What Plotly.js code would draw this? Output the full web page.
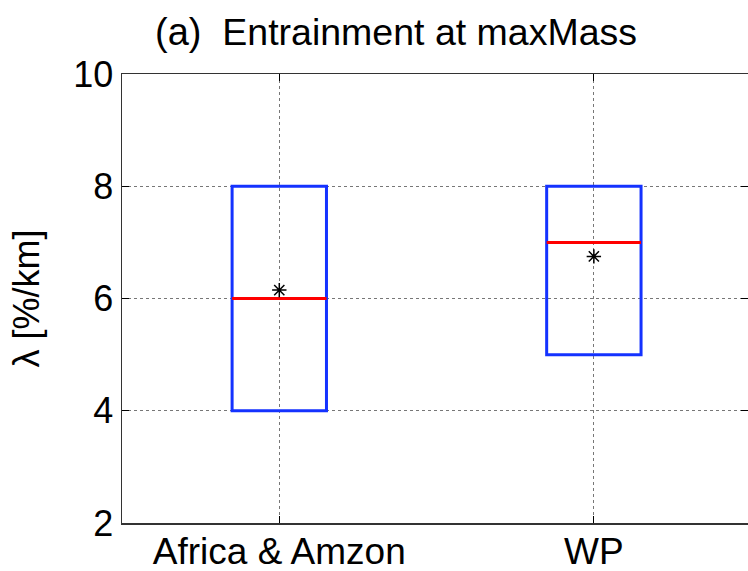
<!DOCTYPE html>
<html>
<head>
<meta charset="utf-8">
<script src="https://cdn.plot.ly/plotly-3.0.1.min.js"></script>
<style>
  html, body { margin: 0; padding: 0; background: #fff; }
  #chart { width: 748px; height: 571px; }
</style>
</head>
<body>
<div id="chart"></div>
<script>
// Entrainment rate at the level of maximum mass flux, per region
const regions = ['Africa & Amzon', 'WP'];
const positions = [1, 2];
const q1 = [4, 5];
const median = [6, 7];
const q3 = [8, 8];
const meanVal = [6.15, 6.75];

const yTicks = [2, 4, 6, 8, 10];
const boxWidth = 0.3;

const FONT = 'Liberation Sans, Arial, Helvetica, sans-serif';
const BLUE = 'rgb(20,50,255)';
const RED = 'rgb(255,0,0)';

// Median segments across each box, separated by gaps
const medX = [], medY = [];
positions.forEach((p, i) => {
  medX.push(p - boxWidth / 2, p + boxWidth / 2, null);
  medY.push(median[i], median[i], null);
});

const traces = [
  {
    type: 'box',
    x: positions,
    q1: q1,
    median: median,
    q3: q3,
    lowerfence: q1,
    upperfence: q3,
    width: boxWidth,
    whiskerwidth: 0,
    boxpoints: false,
    line: { color: BLUE, width: 3 },
    fillcolor: 'rgba(0,0,0,0)',
    hoverinfo: 'skip',
    showlegend: false
  },
  {
    type: 'scatter',
    mode: 'lines',
    x: medX,
    y: medY,
    line: { color: RED, width: 3 },
    hoverinfo: 'skip',
    showlegend: false
  },
  {
    type: 'scatter',
    mode: 'markers',
    x: positions,
    y: meanVal,
    marker: { symbol: 'asterisk-open', size: 12, color: '#000', line: { color: '#000', width: 1.5 } },
    hoverinfo: 'skip',
    showlegend: false
  }
];

const layout = {
  width: 748,
  height: 571,
  margin: { l: 122, r: 0, t: 74, b: 48 },
  paper_bgcolor: '#fff',
  plot_bgcolor: '#fff',
  font: { family: FONT, color: '#000' },
  showlegend: false,
  xaxis: {
    type: 'linear',
    range: [0.5, 2.49],
    tickvals: positions,
    ticktext: regions,
    ticks: 'inside',
    ticklen: 7,
    tickcolor: '#000',
    tickfont: { size: 37, family: FONT },
    ticklabelstandoff: -5,
    showgrid: true,
    gridcolor: '#777',
    griddash: 'dot',
    gridwidth: 1,
    showline: true,
    linecolor: '#333',
    linewidth: 1.5,
    mirror: 'ticks',
    zeroline: false,
    fixedrange: true
  },
  yaxis: {
    range: [2, 10],
    tickvals: yTicks,
    ticks: 'inside',
    ticklen: 7,
    tickcolor: '#000',
    tickfont: { size: 36, family: FONT },
    showgrid: true,
    gridcolor: '#777',
    griddash: 'dot',
    gridwidth: 1,
    showline: true,
    linecolor: '#333',
    linewidth: 1.5,
    mirror: 'ticks',
    zeroline: false,
    fixedrange: true,
    title: { text: 'λ [%/km]', font: { size: 36, family: FONT }, standoff: 22 }
  },
  annotations: [
    {
      xref: 'paper', yref: 'paper',
      x: 0.0495, y: 1.0, yshift: 42,
      xanchor: 'left', yanchor: 'middle',
      showarrow: false,
      text: '<span style="font-size:38px">(a)</span>  Entrainment at maxMass',
      font: { size: 37.5, family: FONT, color: '#000' }
    }
  ]
};

Plotly.newPlot('chart', traces, layout, { displayModeBar: false, staticPlot: true });
</script>
</body>
</html>
